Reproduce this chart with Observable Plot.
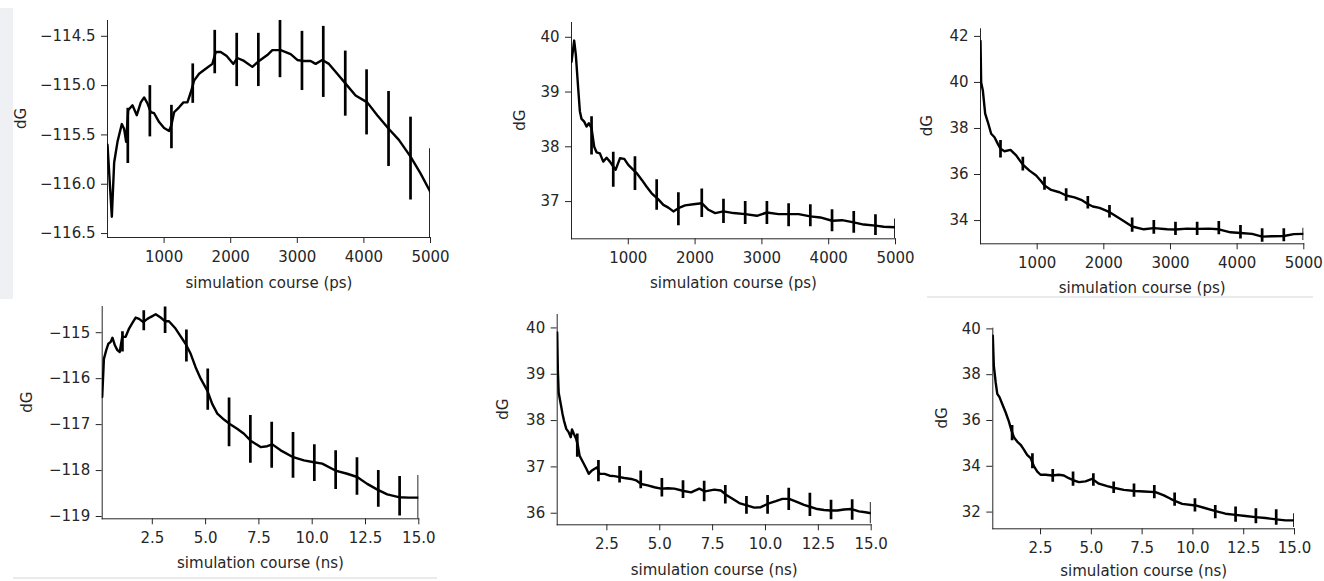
<!DOCTYPE html>
<html><head><meta charset="utf-8">
<script src="https://cdn.jsdelivr.net/npm/d3@7"></script>
<script src="https://cdn.jsdelivr.net/npm/@observablehq/plot@0.6"></script>
<style>
html,body{margin:0;padding:0;background:#fff;width:1324px;height:581px;overflow:hidden;}
#root{position:relative;width:1324px;height:581px;}
.panel{position:absolute;}
.deco{position:absolute;background:#eceef1;}
</style></head><body><div id="root"></div>
<script>
// ---- tick values ----
const psTicks = [1000, 2000, 3000, 4000, 5000];
const nsTicks = [2.5, 5.0, 7.5, 10.0, 12.5, 15.0];
const p1YTicks = [-116.5, -116.0, -115.5, -115.0, -114.5];
const p2YTicks = [37, 38, 39, 40];
const p3YTicks = [34, 36, 38, 40, 42];
const p4YTicks = [-119, -118, -117, -116, -115];
const p5YTicks = [36, 37, 38, 39, 40];
const p6YTicks = [32, 34, 36, 38, 40];
const xLabelPs = "simulation course (ps)";
const xLabelNs = "simulation course (ns)";
const yLabel = "dG";

// ---- panel 1 ----
const p1X = [150, 215, 250, 300, 365, 400, 430, 460, 525, 590, 650, 700, 750, 800, 850, 925, 1000, 1075, 1110, 1150, 1225, 1290, 1350, 1400, 1450, 1525, 1625, 1725, 1775, 1850, 1940, 2040, 2100, 2200, 2325, 2425, 2550, 2625, 2750, 2900, 3000, 3075, 3200, 3275, 3375, 3475, 3600, 3725, 3875, 4050, 4200, 4375, 4525, 4700, 4850, 5000];
const p1Y = [-115.6, -116.33, -115.78, -115.57, -115.39, -115.44, -115.57, -115.25, -115.2, -115.3, -115.17, -115.12, -115.18, -115.27, -115.28, -115.37, -115.43, -115.46, -115.4, -115.27, -115.22, -115.17, -115.17, -115.07, -114.95, -114.88, -114.83, -114.78, -114.66, -114.66, -114.7, -114.78, -114.72, -114.75, -114.81, -114.75, -114.69, -114.64, -114.64, -114.68, -114.74, -114.75, -114.75, -114.78, -114.74, -114.78, -114.88, -114.98, -115.1, -115.17, -115.3, -115.44, -115.55, -115.72, -115.89, -116.08];
const p1BarX = [455, 786, 1110, 1430, 1760, 2090, 2415, 2740, 3070, 3390, 3720, 4040, 4370, 4700, 5000];
const p1BarY = [-115.51, -115.26, -115.42, -114.98, -114.66, -114.74, -114.74, -114.63, -114.75, -114.76, -114.98, -115.17, -115.44, -115.74, -116.1];
const p1BarE = [0.28, 0.26, 0.22, 0.2, 0.22, 0.27, 0.27, 0.29, 0.3, 0.36, 0.33, 0.33, 0.38, 0.42, 0.46];

// ---- panel 2 ----
const p2X = [150, 190, 215, 250, 275, 300, 340, 375, 410, 450, 490, 525, 575, 625, 675, 725, 775, 810, 875, 940, 1000, 1075, 1125, 1200, 1275, 1350, 1450, 1525, 1600, 1675, 1750, 1850, 1975, 2100, 2200, 2300, 2425, 2575, 2750, 2925, 3075, 3250, 3400, 3550, 3725, 3875, 4050, 4200, 4375, 4525, 4700, 4825, 5000];
const p2Y = [39.55, 39.94, 39.68, 39.07, 38.65, 38.51, 38.46, 38.37, 38.43, 38.34, 38.0, 37.9, 37.88, 37.73, 37.8, 37.73, 37.64, 37.58, 37.79, 37.78, 37.67, 37.58, 37.52, 37.4, 37.27, 37.15, 37.04, 36.94, 36.89, 36.82, 36.88, 36.93, 36.95, 36.97, 36.85, 36.79, 36.82, 36.79, 36.77, 36.74, 36.8, 36.77, 36.77, 36.77, 36.73, 36.71, 36.65, 36.66, 36.62, 36.58, 36.56, 36.54, 36.53];
const p2BarX = [450, 775, 1100, 1425, 1750, 2100, 2425, 2750, 3075, 3400, 3725, 4050, 4375, 4700, 5000];
const p2BarY = [38.2, 37.58, 37.51, 37.12, 36.86, 36.97, 36.82, 36.79, 36.79, 36.75, 36.74, 36.65, 36.62, 36.57, 36.5];
const p2BarE = [0.35, 0.32, 0.31, 0.28, 0.3, 0.26, 0.22, 0.21, 0.21, 0.21, 0.2, 0.2, 0.2, 0.19, 0.18];

// ---- panel 3 ----
const p3X = [150, 160, 185, 220, 260, 310, 360, 410, 450, 510, 600, 685, 785, 885, 985, 1060, 1110, 1210, 1335, 1435, 1560, 1660, 1760, 1835, 1935, 2035, 2100, 2250, 2425, 2600, 2750, 2950, 3075, 3250, 3400, 3575, 3725, 3900, 4050, 4225, 4375, 4525, 4700, 4850, 5000];
const p3Y = [41.8, 40.0, 39.65, 38.64, 38.28, 37.77, 37.62, 37.33, 37.12, 37.01, 37.07, 36.83, 36.43, 36.17, 35.96, 35.71, 35.52, 35.33, 35.23, 35.09, 35.01, 34.9, 34.72, 34.61, 34.55, 34.43, 34.34, 34.07, 33.74, 33.62, 33.67, 33.62, 33.61, 33.65, 33.64, 33.65, 33.62, 33.49, 33.46, 33.42, 33.3, 33.32, 33.33, 33.41, 33.42];
const p3BarX = [450, 785, 1110, 1435, 1760, 2085, 2425, 2750, 3075, 3400, 3725, 4050, 4375, 4700, 5000];
const p3BarY = [37.1, 36.45, 35.6, 35.11, 34.77, 34.38, 33.8, 33.7, 33.64, 33.64, 33.67, 33.49, 33.35, 33.36, 33.4];
const p3BarE = [0.38, 0.3, 0.28, 0.27, 0.27, 0.27, 0.31, 0.3, 0.29, 0.29, 0.29, 0.29, 0.29, 0.28, 0.27];

// ---- panel 4 ----
const p4X = [0.15, 0.23, 0.34, 0.44, 0.55, 0.63, 0.75, 0.86, 0.97, 1.09, 1.25, 1.41, 1.56, 1.72, 1.88, 2.08, 2.27, 2.42, 2.66, 2.89, 3.09, 3.28, 3.59, 3.83, 4.06, 4.3, 4.53, 4.77, 5.08, 5.31, 5.55, 5.86, 6.17, 6.48, 6.8, 7.11, 7.58, 7.89, 8.13, 8.52, 9.11, 9.61, 10.08, 10.47, 11.09, 11.64, 12.11, 12.58, 13.08, 13.52, 14.06, 14.53, 15.0];
const p4Y = [-116.4, -115.57, -115.38, -115.24, -115.2, -115.11, -115.28, -115.38, -115.42, -115.09, -115.09, -114.91, -114.79, -114.67, -114.7, -114.77, -114.7, -114.66, -114.6, -114.67, -114.75, -114.75, -114.91, -115.08, -115.24, -115.46, -115.75, -116.0, -116.26, -116.55, -116.76, -116.89, -117.0, -117.09, -117.2, -117.35, -117.49, -117.47, -117.43, -117.56, -117.71, -117.78, -117.82, -117.85, -118.0, -118.07, -118.14, -118.29, -118.42, -118.52, -118.58, -118.59, -118.59];
const p4BarX = [1.1, 2.1, 3.1, 4.1, 5.1, 6.1, 7.1, 8.1, 9.1, 10.1, 11.1, 12.1, 13.1, 14.1, 15.0];
const p4BarY = [-115.2, -114.74, -114.73, -115.29, -116.24, -116.95, -117.32, -117.45, -117.67, -117.84, -117.99, -118.13, -118.4, -118.56, -118.59];
const p4BarE = [0.22, 0.22, 0.29, 0.35, 0.45, 0.53, 0.52, 0.5, 0.5, 0.4, 0.42, 0.41, 0.4, 0.43, 0.48];

// ---- panel 5 ----
const p5X = [0.15, 0.18, 0.22, 0.3, 0.4, 0.47, 0.58, 0.69, 0.79, 0.85, 0.94, 1.05, 1.13, 1.21, 1.37, 1.53, 1.64, 1.76, 1.92, 2.04, 2.15, 2.39, 2.63, 2.86, 3.1, 3.33, 3.65, 3.88, 4.12, 4.43, 4.75, 5.06, 5.38, 5.69, 6.14, 6.48, 6.87, 7.14, 7.58, 7.89, 8.13, 8.44, 8.76, 9.12, 9.47, 9.78, 10.09, 10.49, 10.8, 11.12, 11.51, 11.82, 12.1, 12.45, 12.77, 13.08, 13.4, 13.71, 14.07, 14.42, 14.73, 15.0];
const p5Y = [39.9, 39.1, 38.6, 38.4, 38.15, 38.0, 37.82, 37.75, 37.64, 37.81, 37.71, 37.6, 37.46, 37.24, 37.1, 36.96, 36.85, 36.91, 36.96, 36.99, 36.85, 36.85, 36.81, 36.8, 36.78, 36.76, 36.74, 36.71, 36.63, 36.6, 36.56, 36.53, 36.54, 36.53, 36.48, 36.45, 36.53, 36.47, 36.51, 36.49, 36.4, 36.31, 36.22, 36.17, 36.12, 36.13, 36.2, 36.26, 36.31, 36.31, 36.24, 36.18, 36.14, 36.09, 36.07, 36.06, 36.06, 36.08, 36.09, 36.04, 36.02, 36.0];
const p5BarX = [1.1, 2.1, 3.1, 4.1, 5.1, 6.1, 7.1, 8.1, 9.1, 10.1, 11.1, 12.1, 13.1, 14.1, 15.0];
const p5BarY = [37.46, 36.91, 36.83, 36.72, 36.55, 36.51, 36.47, 36.4, 36.17, 36.18, 36.3, 36.18, 36.07, 36.07, 36.0];
const p5BarE = [0.25, 0.23, 0.18, 0.19, 0.2, 0.19, 0.22, 0.2, 0.19, 0.2, 0.24, 0.25, 0.21, 0.22, 0.23];

// ---- panel 6 ----
const p6X = [0.15, 0.2, 0.29, 0.37, 0.48, 0.61, 0.78, 0.94, 1.07, 1.19, 1.35, 1.52, 1.68, 1.84, 2.01, 2.17, 2.34, 2.5, 2.75, 3.07, 3.4, 3.65, 3.89, 4.14, 4.39, 4.71, 5.04, 5.37, 5.78, 6.15, 6.6, 7.14, 7.59, 8.16, 8.57, 8.9, 9.14, 9.47, 10.13, 10.54, 11.12, 11.6, 12.1, 12.59, 13.08, 13.57, 14.1, 14.56, 15.0];
const p6Y = [39.7, 38.4, 37.67, 37.16, 37.02, 36.73, 36.36, 35.96, 35.56, 35.27, 35.08, 34.94, 34.73, 34.5, 34.36, 34.01, 33.77, 33.63, 33.63, 33.6, 33.63, 33.6, 33.48, 33.38, 33.31, 33.34, 33.45, 33.24, 33.13, 33.05, 32.97, 32.92, 32.9, 32.87, 32.73, 32.58, 32.48, 32.36, 32.29, 32.19, 32.04, 31.93, 31.88, 31.83, 31.78, 31.74, 31.68, 31.64, 31.64];
const p6BarX = [1.1, 2.1, 3.1, 4.1, 5.1, 6.1, 7.1, 8.1, 9.1, 10.1, 11.1, 12.1, 13.1, 14.1, 15.0];
const p6BarY = [35.45, 34.22, 33.58, 33.44, 33.4, 33.06, 32.94, 32.87, 32.54, 32.29, 32.0, 31.89, 31.82, 31.76, 31.63];
const p6BarE = [0.33, 0.33, 0.28, 0.31, 0.27, 0.25, 0.29, 0.29, 0.29, 0.29, 0.29, 0.33, 0.33, 0.34, 0.3];

// ---- layout (positions/sizes only) ----
const panels = [
  {left: 0, top: 0, w: 450, h: 300, m: [20, 20, 63, 107], xd: [150, 5000], yd: [-116.54, -114.34],
   x: p1X, y: p1Y, bx: p1BarX, by: p1BarY, be: p1BarE, xt: psTicks, yt: p1YTicks, xf: "d", yf: ".1f", xl: xLabelPs, ylx: 21, xdy: 50},
  {left: 450, top: 0, w: 470, h: 300, m: [22, 25, 61.7, 121], xd: [150, 5000], yd: [36.32, 40.27],
   x: p2X, y: p2Y, bx: p2BarX, by: p2BarY, be: p2BarE, xt: psTicks, yt: p2YTicks, xf: "d", yf: "d", xl: xLabelPs, ylx: 520, xdy: 49},
  {left: 920, top: 0, w: 404, h: 300, m: [28.3, 20.7, 56.7, 60], xd: [150, 5000], yd: [32.99, 42.33],
   x: p3X, y: p3Y, bx: p3BarX, by: p3BarY, be: p3BarE, xt: psTicks, yt: p3YTicks, xf: "d", yf: "d", xl: xLabelPs, ylx: 927, xdy: 49},
  {left: 0, top: 295, w: 450, h: 286, m: [11, 31.7, 62.7, 101.7], xd: [0.15, 15], yd: [-119.05, -114.43],
   x: p4X, y: p4Y, bx: p4BarX, by: p4BarY, be: p4BarE, xt: nsTicks, yt: p4YTicks, xf: ".1f", yf: "d", xl: xLabelNs, ylx: 27, xdy: 49},
  {left: 450, top: 295, w: 470, h: 286, m: [19, 49.3, 56.7, 106.7], xd: [0.15, 15], yd: [35.75, 40.29],
   x: p5X, y: p5Y, bx: p5BarX, by: p5BarY, be: p5BarE, xt: nsTicks, yt: p5YTicks, xf: ".1f", yf: "d", xl: xLabelNs, ylx: 503, xdy: 50},
  {left: 920, top: 295, w: 404, h: 286, m: [32.7, 30, 52.7, 72.3], xd: [0.15, 15], yd: [31.27, 40.03],
   x: p6X, y: p6Y, bx: p6BarX, by: p6BarY, be: p6BarE, xt: nsTicks, yt: p6YTicks, xf: ".1f", yf: "d", xl: xLabelNs, ylx: 942, xdy: 47.5}
];

const root = document.getElementById("root");
function deco(l, t, w, h, c) {
  const d = document.createElement("div");
  d.className = "deco";
  Object.assign(d.style, {left: l + "px", top: t + "px", width: w + "px", height: h + "px", background: c});
  root.appendChild(d);
}
deco(0, 8, 13, 285, "#eef0f3");
deco(0, 290, 13, 9, "#eef0f3");
deco(927, 296, 386, 1.5, "#e8eaed");
deco(13, 577, 424, 1.5, "#e8eaed");

for (const p of panels) {
  const [mt, mr, mb, ml] = p.m;
  const lineData = p.x.map((x, i) => ({x, y: p.y[i]}));
  const barData = p.bx.map((x, i) => ({x, y1: p.by[i] - p.be[i], y2: p.by[i] + p.be[i]}));
  const chart = Plot.plot({
    width: p.w, height: p.h,
    marginTop: mt, marginRight: mr, marginBottom: mb, marginLeft: ml,
    style: {fontFamily: "DejaVu Sans", fontSize: "15px", color: "#262626", background: "transparent", overflow: "visible"},
    x: {domain: p.xd, ticks: p.xt, tickFormat: p.xf, tickSize: 6, tickPadding: 8, line: true, label: null},
    y: {domain: p.yd, ticks: p.yt, tickFormat: p.yf, tickSize: 6, tickPadding: 6, line: true, label: null},
    marks: [
      Plot.line(lineData, {x: "x", y: "y", stroke: "#000", strokeWidth: 2.4, clip: true}),
      Plot.ruleX(barData, {x: "x", y1: "y1", y2: "y2", stroke: "#000", strokeWidth: 2.7, clip: true}),
      Plot.text([p.xl], {frameAnchor: "bottom", dy: p.xdy, lineAnchor: "bottom", text: d => d, fill: "#262626"}),
      Plot.text([yLabel], {frameAnchor: "left", dx: -(p.left + ml - p.ylx), rotate: -90, text: d => d, fill: "#262626"})
    ]
  });
  chart.classList.add("panel");
  chart.style.left = p.left + "px";
  chart.style.top = p.top + "px";
  root.appendChild(chart);
}
</script>
</body></html>
